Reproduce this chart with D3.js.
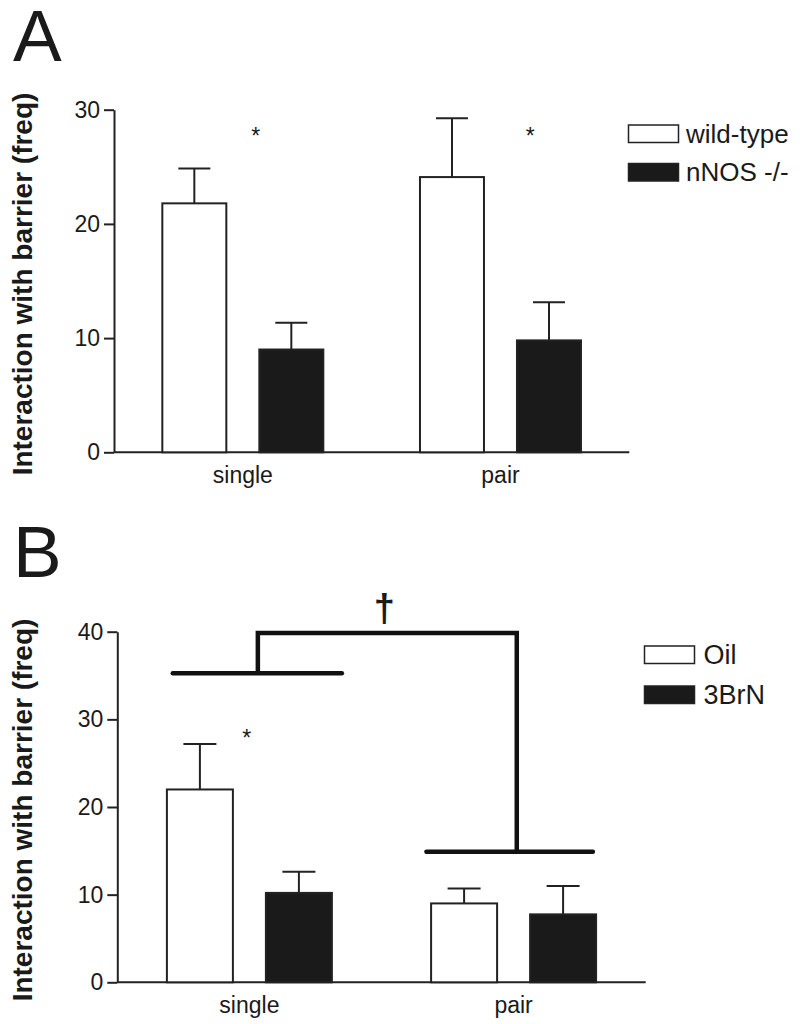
<!DOCTYPE html>
<html>
<head>
<meta charset="utf-8">
<script src="https://cdn.jsdelivr.net/npm/d3@7"></script>
<style>
  html, body { margin: 0; padding: 0; background: #fff; }
  svg { display: block; }
  text { font-family: "Liberation Sans", Arial, Helvetica, sans-serif; fill: #1a1a1a; }
</style>
</head>
<body>
<svg id="chart" width="800" height="1024"></svg>
<script>
// ---------------- data ----------------
const groups = ["single", "pair"];

// Panel A
const seriesA = ["wild-type", "nNOS -/-"];
const meanA_wt   = [21.8, 24.1];
const errA_wt    = [24.85, 29.25];
const meanA_nnos = [9.0, 9.8];
const errA_nnos  = [11.35, 13.15];
const ticksA = [0, 10, 20, 30];
const starsA = [{ group: "single", off: 0.05, value: 28.1 }, { group: "pair", off: 0.115, value: 28.1 }];

// Panel B
const seriesB = ["Oil", "3BrN"];
const meanB_oil  = [22.0, 9.0];
const errB_oil   = [27.2, 10.7];
const meanB_brn  = [10.2, 7.75];
const errB_brn   = [12.6, 11.0];
const ticksB = [0, 10, 20, 30, 40];
const starsB = [{ group: "single", off: -0.01, value: 28.4 }];
const bracketLevels = { leftBar: 35.25, top: 39.85, rightBar: 14.9 };
const daggerValue = 41.2;

const ylabel = "Interaction with barrier (freq)";

// ---------------- drawing ----------------
const svg = d3.select("#chart");
const ink = "#1a1a1a";

function panel(cfg) {
  const g = svg.append("g");
  const x = d3.scaleBand().domain(groups).range([cfg.x0, cfg.x1]).paddingInner(0).paddingOuter(0);
  const y = d3.scaleLinear().domain([0, cfg.ymax]).range([cfg.y0, cfg.ytop]);
  const total = cfg.barW * 2 + cfg.gap;
  const xs = d3.scaleBand().domain(cfg.series).range([-total / 2, total / 2])
               .paddingInner(cfg.gap / (cfg.barW + cfg.gap)).paddingOuter(0);
  const center = gname => x(gname) + x.bandwidth() / 2;

  // y axis
  const yAxis = d3.axisLeft(y).tickValues(cfg.ticks).tickSize(10).tickSizeOuter(0).tickPadding(4)
                  .tickFormat(d3.format("d"));
  const ya = g.append("g").attr("transform", `translate(${cfg.x0},0)`).call(yAxis);
  ya.selectAll("path, line").attr("stroke", "#222").attr("stroke-width", 2);
  ya.selectAll("text").style("font-size", "23px").attr("fill", ink);

  // x axis
  const xAxis = d3.axisBottom(x).tickSize(0).tickSizeOuter(0).tickPadding(14);
  const xa = g.append("g").attr("transform", `translate(0,${cfg.y0})`).call(xAxis);
  xa.select(".domain").attr("stroke", "#222").attr("stroke-width", 2)
    .attr("d", `M${cfg.x0},0H${cfg.x1}`);
  xa.selectAll("text").style("font-size", "23px").attr("fill", ink).attr("dy", "0.71em");

  // bars
  const rows = [];
  groups.forEach((gn, i) => {
    cfg.series.forEach((s, j) => {
      rows.push({ group: gn, series: s, mean: cfg.means[j][i], err: cfg.errs[j][i], filled: j === 1 });
    });
  });
  const bx = d => center(d.group) + xs(d.series);
  // error bars (behind bars)
  g.selectAll(".errv").data(rows).enter().append("line")
    .attr("x1", d => bx(d) + xs.bandwidth() / 2).attr("x2", d => bx(d) + xs.bandwidth() / 2)
    .attr("y1", d => y(d.mean)).attr("y2", d => y(d.err))
    .attr("stroke", "#222").attr("stroke-width", 2);
  g.selectAll(".errc").data(rows).enter().append("line")
    .attr("x1", d => bx(d) + xs.bandwidth() / 4).attr("x2", d => bx(d) + xs.bandwidth() * 3 / 4)
    .attr("y1", d => y(d.err)).attr("y2", d => y(d.err))
    .attr("stroke", "#222").attr("stroke-width", 2);
  g.selectAll(".bar").data(rows).enter().append("rect")
    .attr("x", d => bx(d)).attr("width", xs.bandwidth())
    .attr("y", d => y(d.mean)).attr("height", d => y(0) - y(d.mean))
    .attr("fill", d => d.filled ? ink : "#fff")
    .attr("stroke", "#222").attr("stroke-width", 2);

  // stars
  g.selectAll(".star").data(cfg.stars).enter().append("text")
    .attr("x", d => center(d.group) + d.off * x.bandwidth())
    .attr("y", d => y(d.value)).attr("dy", "0.55em")
    .attr("text-anchor", "middle").style("font-size", "23px").text("*");

  // legend
  const lg = g.append("g").attr("transform", `translate(${cfg.legX},${cfg.legY})`);
  cfg.series.forEach((s, j) => {
    lg.append("rect").attr("x", 0).attr("y", j * cfg.legStep).attr("width", 50).attr("height", 17.5)
      .attr("fill", j === 1 ? ink : "#fff").attr("stroke", "#222").attr("stroke-width", 1.5);
    lg.append("text").attr("x", cfg.legTextDx).attr("y", j * cfg.legStep + 17.5)
      .style("font-size", cfg.legFont + "px").text(s);
  });

  // y label
  g.append("text")
    .attr("transform", `translate(32,${(cfg.y0 + cfg.ytop) / 2 + 3}) rotate(-90)`)
    .attr("text-anchor", "middle").style("font-size", "28px").style("font-weight", "bold")
    .text(ylabel);

  // panel letter
  g.append("text").attr("x", 13).attr("y", cfg.letterY).style("font-size", "73px").text(cfg.letter);

  return { g, x, y, center, xs };
}

panel({
  x0: 114, x1: 629.3, y0: 452.3, ytop: 109.7, ymax: 30, ticks: ticksA,
  series: seriesA, means: [meanA_wt, meanA_nnos], errs: [errA_wt, errA_nnos],
  barW: 64, gap: 33, stars: starsA,
  legX: 628.5, legY: 125, legStep: 38.5, legTextDx: 57.5, legFont: 26,
  letter: "A", letterY: 61
});

const pB = panel({
  x0: 117.3, x1: 645.7, y0: 982.3, ytop: 631.7, ymax: 40, ticks: ticksB,
  series: seriesB, means: [meanB_oil, meanB_brn], errs: [errB_oil, errB_brn],
  barW: 66, gap: 33, stars: starsB,
  legX: 644.5, legY: 646, legStep: 40, legTextDx: 59, legFont: 27,
  letter: "B", letterY: 577
});

// significance bracket in panel B
(function () {
  const { g, y, center, x } = pB;
  const bw = x.bandwidth();
  const lx1 = center("single") - 0.29 * bw, lx2 = center("single") + 0.35 * bw;
  const vx1 = center("single") + 0.032 * bw;
  const rx1 = center("pair") - 0.33 * bw, rx2 = center("pair") + 0.30 * bw;
  const vx2 = center("pair") + 0.012 * bw;
  const line = (x1, y1, x2, y2) => {
    g.append("line").attr("x1", x1).attr("y1", y1).attr("x2", x2).attr("y2", y2)
      .attr("stroke-linecap", "round").attr("stroke", "#111").attr("stroke-width", 4.5);
  };
  line(lx1, y(bracketLevels.leftBar), lx2, y(bracketLevels.leftBar));
  line(rx1, y(bracketLevels.rightBar), rx2, y(bracketLevels.rightBar));
  g.append("path")
    .attr("d", `M${vx1},${y(bracketLevels.leftBar)}V${y(bracketLevels.top)}H${vx2}V${y(bracketLevels.rightBar)}`)
    .attr("fill", "none").attr("stroke", "#111").attr("stroke-width", 4.5).attr("stroke-linejoin", "miter");
  g.append("text").attr("x", (vx1 + vx2) / 2 - 3).attr("y", y(daggerValue))
    .attr("text-anchor", "middle").style("font-size", "38px").style("font-weight", "bold").text("\u2020");
})();
</script>
</body>
</html>
